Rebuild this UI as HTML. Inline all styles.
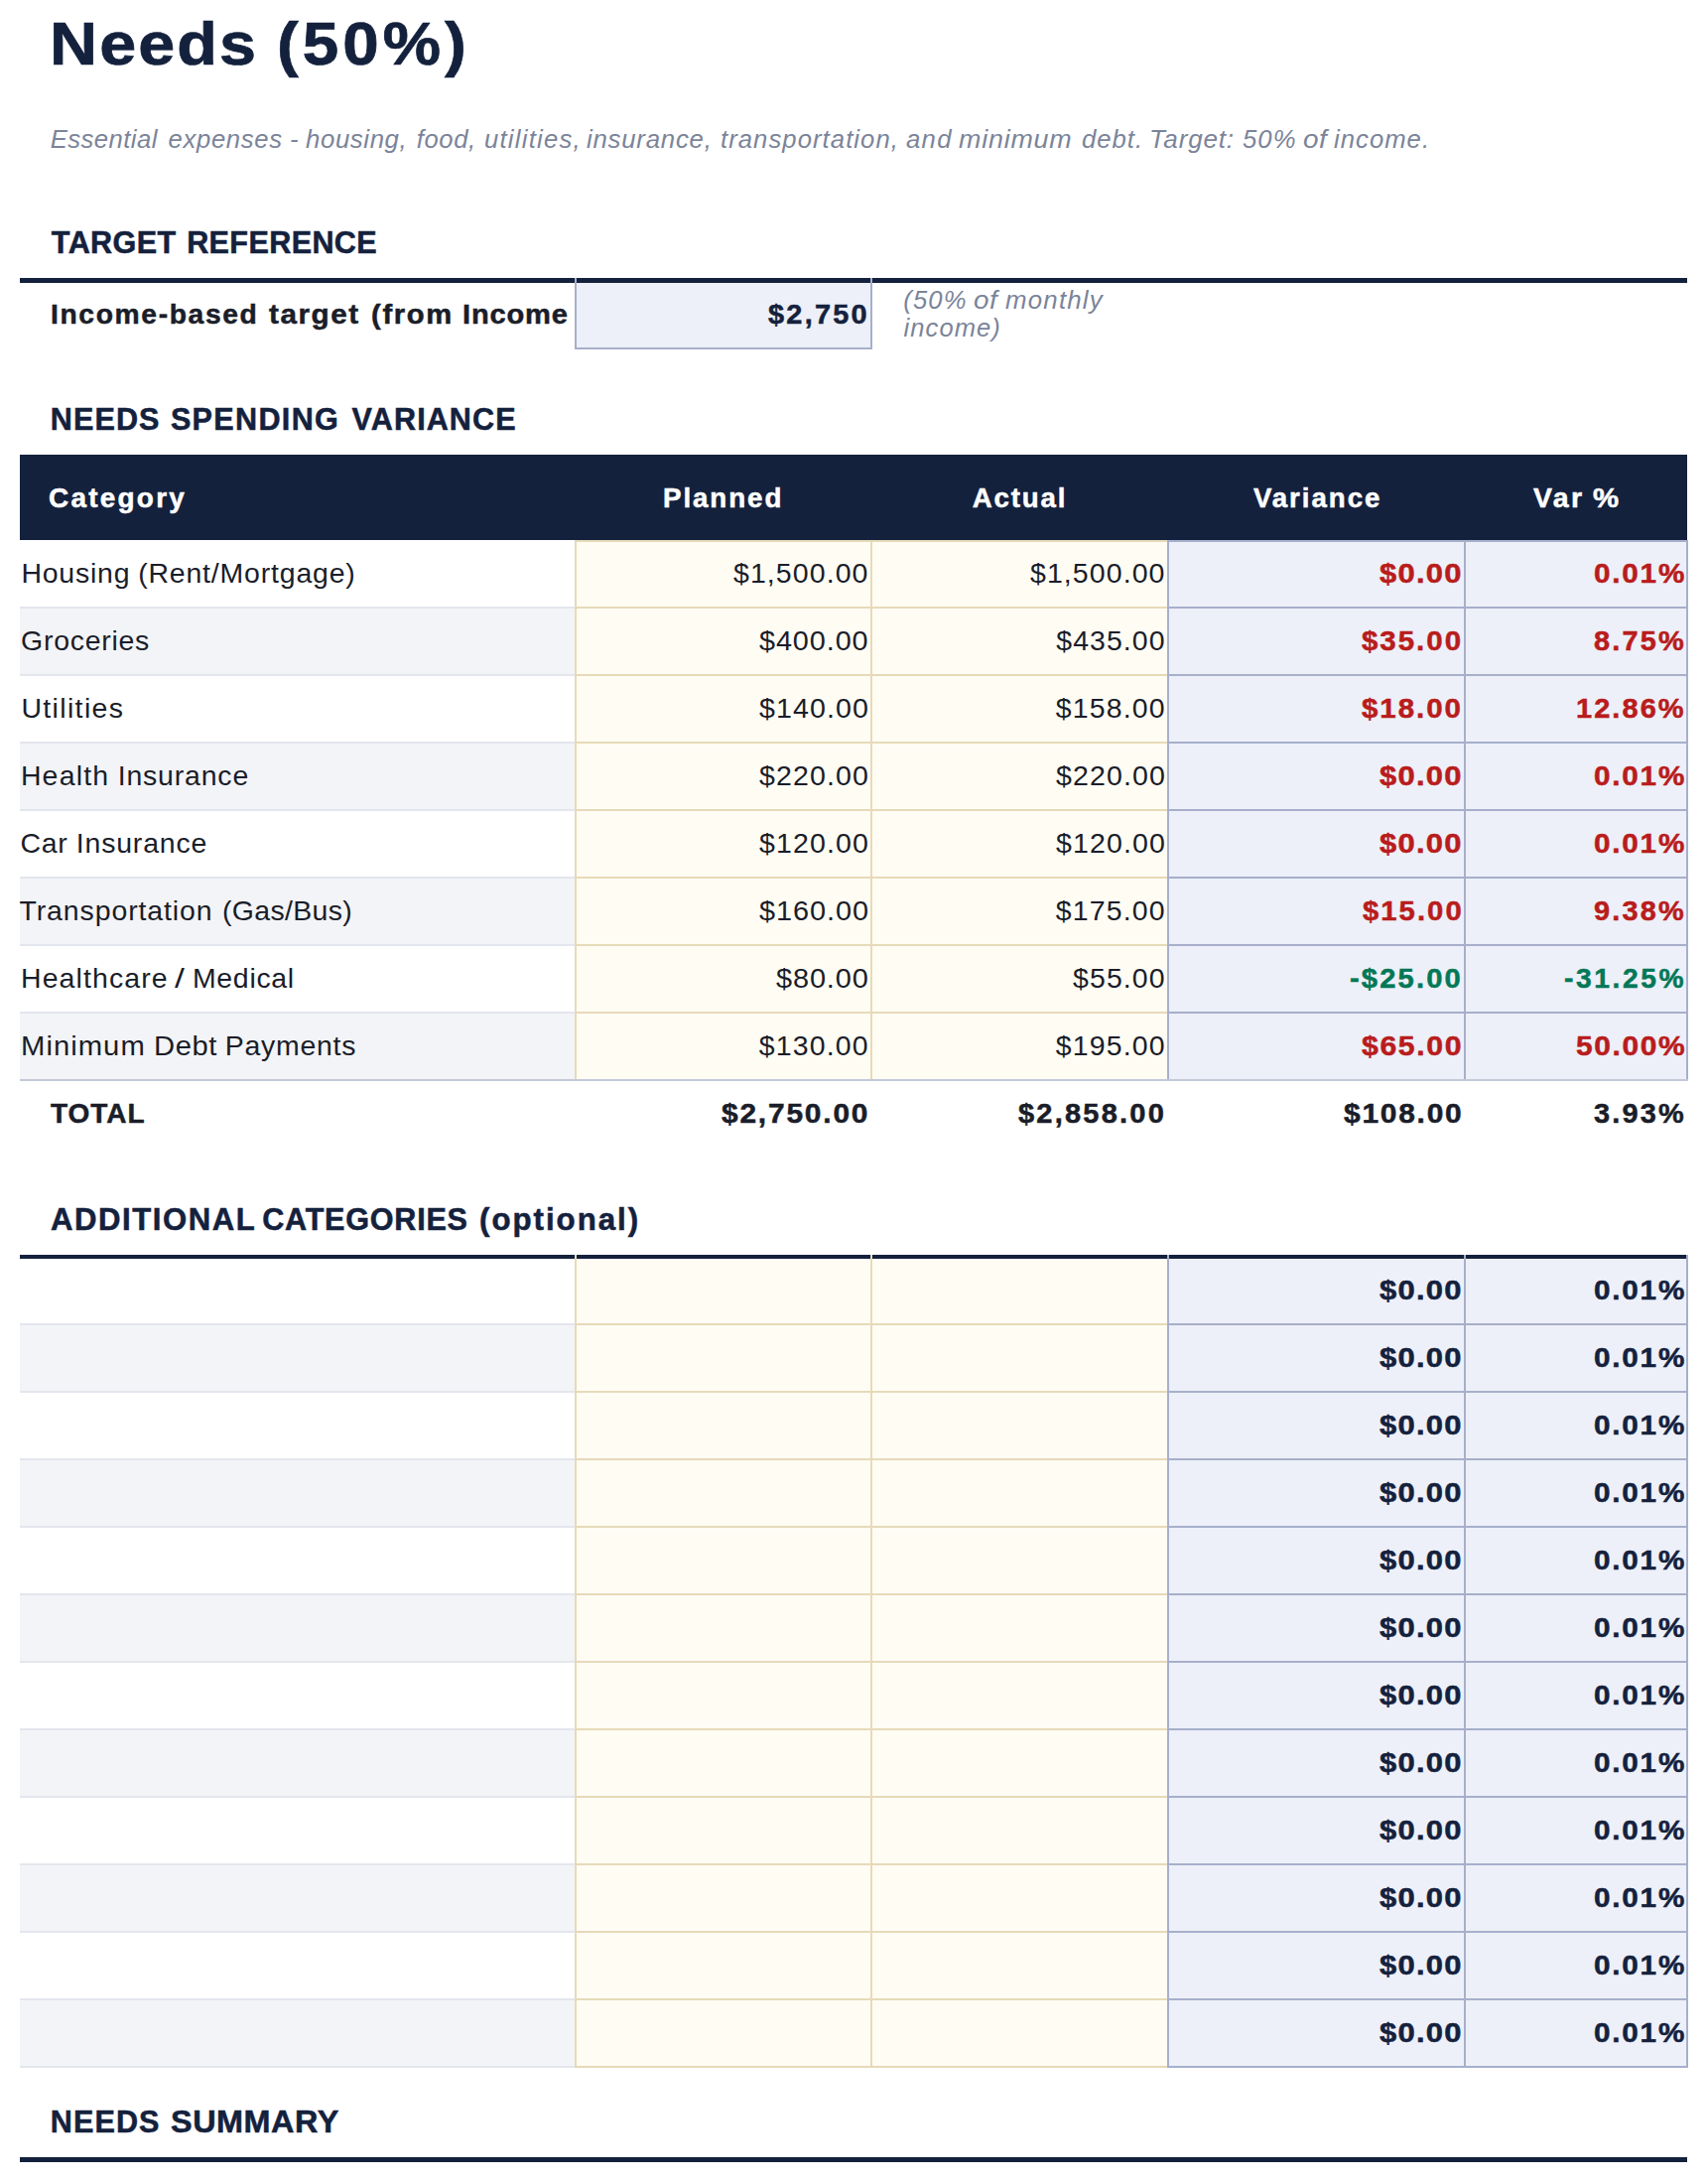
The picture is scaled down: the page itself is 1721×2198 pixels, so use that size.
<!DOCTYPE html>
<html lang="en"><head><meta charset="utf-8"><title>Needs (50%)</title>
<style>
html,body{margin:0;padding:0;background:#fff}
body{width:1721px;height:2198px;position:relative;overflow:hidden;font-family:"Liberation Sans", sans-serif;}
.b{position:absolute}
.t{position:absolute;white-space:nowrap;font-family:"Liberation Sans", sans-serif;transform-origin:0 50%}
.w{position:absolute;top:0;white-space:nowrap;transform-origin:0 50%}
</style></head><body>
<div class="b" style="left:20px;top:458px;width:1680px;height:86px;background:#14213d"></div>
<div class="b" style="left:580px;top:544px;width:597px;height:544px;background:#fffcf4"></div>
<div class="b" style="left:1177px;top:544px;width:523px;height:544px;background:#edf0f8"></div>
<div class="b" style="left:20px;top:612px;width:560px;height:68px;background:#f3f4f7"></div>
<div class="b" style="left:20px;top:748px;width:560px;height:68px;background:#f3f4f7"></div>
<div class="b" style="left:20px;top:884px;width:560px;height:68px;background:#f3f4f7"></div>
<div class="b" style="left:20px;top:1020px;width:560px;height:68px;background:#f3f4f7"></div>
<div class="b" style="left:580px;top:1266px;width:597px;height:816px;background:#fffcf4"></div>
<div class="b" style="left:1177px;top:1266px;width:523px;height:816px;background:#edf0f8"></div>
<div class="b" style="left:20px;top:1334px;width:560px;height:68px;background:#f3f4f7"></div>
<div class="b" style="left:20px;top:1470px;width:560px;height:68px;background:#f3f4f7"></div>
<div class="b" style="left:20px;top:1606px;width:560px;height:68px;background:#f3f4f7"></div>
<div class="b" style="left:20px;top:1742px;width:560px;height:68px;background:#f3f4f7"></div>
<div class="b" style="left:20px;top:1878px;width:560px;height:68px;background:#f3f4f7"></div>
<div class="b" style="left:20px;top:2014px;width:560px;height:68px;background:#f3f4f7"></div>
<div class="b" style="left:580px;top:285px;width:298px;height:66px;background:#edf0f8"></div>
<div class="b" style="left:579px;top:544px;width:597px;height:2px;background:#e6dab8"></div>
<div class="b" style="left:1176px;top:544px;width:525px;height:2px;background:#a7afcb"></div>
<div class="b" style="left:20px;top:611px;width:559px;height:2px;background:#e4e6ee"></div>
<div class="b" style="left:579px;top:611px;width:597px;height:2px;background:#e6dab8"></div>
<div class="b" style="left:1176px;top:611px;width:525px;height:2px;background:#a7afcb"></div>
<div class="b" style="left:20px;top:679px;width:559px;height:2px;background:#e4e6ee"></div>
<div class="b" style="left:579px;top:679px;width:597px;height:2px;background:#e6dab8"></div>
<div class="b" style="left:1176px;top:679px;width:525px;height:2px;background:#a7afcb"></div>
<div class="b" style="left:20px;top:747px;width:559px;height:2px;background:#e4e6ee"></div>
<div class="b" style="left:579px;top:747px;width:597px;height:2px;background:#e6dab8"></div>
<div class="b" style="left:1176px;top:747px;width:525px;height:2px;background:#a7afcb"></div>
<div class="b" style="left:20px;top:815px;width:559px;height:2px;background:#e4e6ee"></div>
<div class="b" style="left:579px;top:815px;width:597px;height:2px;background:#e6dab8"></div>
<div class="b" style="left:1176px;top:815px;width:525px;height:2px;background:#a7afcb"></div>
<div class="b" style="left:20px;top:883px;width:559px;height:2px;background:#e4e6ee"></div>
<div class="b" style="left:579px;top:883px;width:597px;height:2px;background:#e6dab8"></div>
<div class="b" style="left:1176px;top:883px;width:525px;height:2px;background:#a7afcb"></div>
<div class="b" style="left:20px;top:951px;width:559px;height:2px;background:#e4e6ee"></div>
<div class="b" style="left:579px;top:951px;width:597px;height:2px;background:#e6dab8"></div>
<div class="b" style="left:1176px;top:951px;width:525px;height:2px;background:#a7afcb"></div>
<div class="b" style="left:20px;top:1019px;width:559px;height:2px;background:#e4e6ee"></div>
<div class="b" style="left:579px;top:1019px;width:597px;height:2px;background:#e6dab8"></div>
<div class="b" style="left:1176px;top:1019px;width:525px;height:2px;background:#a7afcb"></div>
<div class="b" style="left:20px;top:1087px;width:559px;height:2px;background:#e4e6ee"></div>
<div class="b" style="left:579px;top:1087px;width:597px;height:2px;background:#e6dab8"></div>
<div class="b" style="left:1176px;top:1087px;width:525px;height:2px;background:#a7afcb"></div>
<div class="b" style="left:579px;top:544px;width:2px;height:545px;background:#e6dab8"></div>
<div class="b" style="left:877px;top:544px;width:2px;height:545px;background:#e6dab8"></div>
<div class="b" style="left:1176px;top:544px;width:2px;height:545px;background:#a7afcb"></div>
<div class="b" style="left:1475px;top:544px;width:2px;height:545px;background:#a7afcb"></div>
<div class="b" style="left:1699px;top:544px;width:2px;height:545px;background:#a7afcb"></div>
<div class="b" style="left:20px;top:1087px;width:1681px;height:2px;background:#c4c9d8"></div>
<div class="b" style="left:20px;top:1333px;width:559px;height:2px;background:#e4e6ee"></div>
<div class="b" style="left:579px;top:1333px;width:597px;height:2px;background:#e6dab8"></div>
<div class="b" style="left:1176px;top:1333px;width:525px;height:2px;background:#a7afcb"></div>
<div class="b" style="left:20px;top:1401px;width:559px;height:2px;background:#e4e6ee"></div>
<div class="b" style="left:579px;top:1401px;width:597px;height:2px;background:#e6dab8"></div>
<div class="b" style="left:1176px;top:1401px;width:525px;height:2px;background:#a7afcb"></div>
<div class="b" style="left:20px;top:1469px;width:559px;height:2px;background:#e4e6ee"></div>
<div class="b" style="left:579px;top:1469px;width:597px;height:2px;background:#e6dab8"></div>
<div class="b" style="left:1176px;top:1469px;width:525px;height:2px;background:#a7afcb"></div>
<div class="b" style="left:20px;top:1537px;width:559px;height:2px;background:#e4e6ee"></div>
<div class="b" style="left:579px;top:1537px;width:597px;height:2px;background:#e6dab8"></div>
<div class="b" style="left:1176px;top:1537px;width:525px;height:2px;background:#a7afcb"></div>
<div class="b" style="left:20px;top:1605px;width:559px;height:2px;background:#e4e6ee"></div>
<div class="b" style="left:579px;top:1605px;width:597px;height:2px;background:#e6dab8"></div>
<div class="b" style="left:1176px;top:1605px;width:525px;height:2px;background:#a7afcb"></div>
<div class="b" style="left:20px;top:1673px;width:559px;height:2px;background:#e4e6ee"></div>
<div class="b" style="left:579px;top:1673px;width:597px;height:2px;background:#e6dab8"></div>
<div class="b" style="left:1176px;top:1673px;width:525px;height:2px;background:#a7afcb"></div>
<div class="b" style="left:20px;top:1741px;width:559px;height:2px;background:#e4e6ee"></div>
<div class="b" style="left:579px;top:1741px;width:597px;height:2px;background:#e6dab8"></div>
<div class="b" style="left:1176px;top:1741px;width:525px;height:2px;background:#a7afcb"></div>
<div class="b" style="left:20px;top:1809px;width:559px;height:2px;background:#e4e6ee"></div>
<div class="b" style="left:579px;top:1809px;width:597px;height:2px;background:#e6dab8"></div>
<div class="b" style="left:1176px;top:1809px;width:525px;height:2px;background:#a7afcb"></div>
<div class="b" style="left:20px;top:1877px;width:559px;height:2px;background:#e4e6ee"></div>
<div class="b" style="left:579px;top:1877px;width:597px;height:2px;background:#e6dab8"></div>
<div class="b" style="left:1176px;top:1877px;width:525px;height:2px;background:#a7afcb"></div>
<div class="b" style="left:20px;top:1945px;width:559px;height:2px;background:#e4e6ee"></div>
<div class="b" style="left:579px;top:1945px;width:597px;height:2px;background:#e6dab8"></div>
<div class="b" style="left:1176px;top:1945px;width:525px;height:2px;background:#a7afcb"></div>
<div class="b" style="left:20px;top:2013px;width:559px;height:2px;background:#e4e6ee"></div>
<div class="b" style="left:579px;top:2013px;width:597px;height:2px;background:#e6dab8"></div>
<div class="b" style="left:1176px;top:2013px;width:525px;height:2px;background:#a7afcb"></div>
<div class="b" style="left:20px;top:2081px;width:559px;height:2px;background:#e4e6ee"></div>
<div class="b" style="left:579px;top:2081px;width:597px;height:2px;background:#e6dab8"></div>
<div class="b" style="left:1176px;top:2081px;width:525px;height:2px;background:#a7afcb"></div>
<div class="b" style="left:579px;top:1264px;width:2px;height:819px;background:#e6dab8"></div>
<div class="b" style="left:877px;top:1264px;width:2px;height:819px;background:#e6dab8"></div>
<div class="b" style="left:1176px;top:1264px;width:2px;height:819px;background:#a7afcb"></div>
<div class="b" style="left:1475px;top:1264px;width:2px;height:819px;background:#a7afcb"></div>
<div class="b" style="left:1699px;top:1264px;width:2px;height:819px;background:#a7afcb"></div>
<div class="b" style="left:579px;top:280px;width:2px;height:72px;background:#a7afcb"></div>
<div class="b" style="left:877px;top:280px;width:2px;height:72px;background:#a7afcb"></div>
<div class="b" style="left:579px;top:350px;width:300px;height:2px;background:#a7afcb"></div>
<div class="b" style="left:20px;top:280px;width:559px;height:5px;background:#14213d"></div>
<div class="b" style="left:581px;top:280px;width:296px;height:5px;background:#14213d"></div>
<div class="b" style="left:879px;top:280px;width:821px;height:5px;background:#14213d"></div>
<div class="b" style="left:20px;top:1264px;width:559px;height:4px;background:#14213d"></div>
<div class="b" style="left:581px;top:1264px;width:296px;height:4px;background:#14213d"></div>
<div class="b" style="left:879px;top:1264px;width:297px;height:4px;background:#14213d"></div>
<div class="b" style="left:1178px;top:1264px;width:297px;height:4px;background:#14213d"></div>
<div class="b" style="left:1477px;top:1264px;width:222px;height:4px;background:#14213d"></div>
<div class="b" style="left:20px;top:2173px;width:1680px;height:5px;background:#14213d"></div>
<div class="t" style="left:50.05px;top:6px;font-size:61.15px;line-height:76px;color:#14213d;font-weight:700;-webkit-text-stroke:0.73px #14213d;"><span class="w" style="left:0.0px;letter-spacing:1.909px;transform:scaleX(1.0882);">Needs</span> <span class="w" style="left:228.77px;letter-spacing:3.697px;transform:scaleX(1.0727);">(50%)</span></div>
<div class="t" style="left:50.7px;top:122px;font-size:25.65px;line-height:36px;color:#7b8499;font-style:italic;"><span class="w" style="left:-0.0px;letter-spacing:0.457px;">Essential</span> <span class="w" style="left:118.79px;letter-spacing:0.694px;">expenses</span> <span class="w" style="left:241.33px;letter-spacing:0.694px;">-</span> <span class="w" style="left:257.13px;letter-spacing:0.582px;transform:scaleX(1.0072);">housing,</span> <span class="w" style="left:368.99px;letter-spacing:0.611px;">food,</span> <span class="w" style="left:437.27px;letter-spacing:1.25px;">utilities,</span> <span class="w" style="left:540.72px;letter-spacing:0.765px;transform:scaleX(1.0052);">insurance,</span> <span class="w" style="left:675.28px;letter-spacing:1.075px;">transportation,</span> <span class="w" style="left:862.23px;letter-spacing:1.308px;transform:scaleX(1.0008);">and</span> <span class="w" style="left:915.74px;letter-spacing:0.775px;transform:scaleX(1.0464);">minimum</span> <span class="w" style="left:1038.87px;letter-spacing:0.975px;transform:scaleX(1.0033);">debt.</span> <span class="w" style="left:1106.95px;letter-spacing:0.793px;transform:scaleX(1.0167);">Target:</span> <span class="w" style="left:1201.26px;letter-spacing:1.125px;">50%</span> <span class="w" style="left:1262.59px;letter-spacing:0.401px;transform:scaleX(1.0906);">of</span> <span class="w" style="left:1293.78px;letter-spacing:1.03px;transform:scaleX(1.0007);">income.</span></div>
<div class="t" style="left:51.85px;top:223px;font-size:30.58px;line-height:42px;color:#14213d;font-weight:700;-webkit-text-stroke:0.51px #14213d;"><span class="w" style="left:0.0px;letter-spacing:0.386px;">TARGET</span> <span class="w" style="left:136.32px;letter-spacing:0.368px;">REFERENCE</span></div>
<div class="t" style="left:50.84px;top:401px;font-size:30.58px;line-height:42px;color:#14213d;font-weight:700;-webkit-text-stroke:0.51px #14213d;"><span class="w" style="left:0.0px;letter-spacing:1.063px;">NEEDS</span> <span class="w" style="left:121.08px;letter-spacing:1.323px;">SPENDING</span> <span class="w" style="left:303.79px;letter-spacing:1.077px;">VARIANCE</span></div>
<div class="t" style="left:50.87px;top:1207px;font-size:30.58px;line-height:42px;color:#14213d;font-weight:700;-webkit-text-stroke:0.51px #14213d;"><span class="w" style="left:-0.0px;letter-spacing:1.517px;transform:scaleX(1.0175);">ADDITIONAL</span> <span class="w" style="left:213.36px;letter-spacing:0.758px;">CATEGORIES</span> <span class="w" style="left:432.18px;letter-spacing:1.926px;transform:scaleX(1.0227);">(optional)</span></div>
<div class="t" style="left:50.84px;top:2116px;font-size:30.58px;line-height:42px;color:#14213d;font-weight:700;-webkit-text-stroke:0.51px #14213d;"><span class="w" style="left:0.0px;letter-spacing:1.063px;">NEEDS</span> <span class="w" style="left:121.09px;letter-spacing:0.503px;transform:scaleX(1.0594);">SUMMARY</span></div>
<div class="t" style="left:51.42px;top:297px;font-size:27.66px;line-height:39px;color:#1a1d29;font-weight:700;-webkit-text-stroke:0.49px #1a1d29;"><span class="w" style="left:-0.0px;letter-spacing:1.592px;transform:scaleX(1.0213);">Income-based</span> <span class="w" style="left:219.95px;letter-spacing:1.437px;transform:scaleX(1.0736);">target</span> <span class="w" style="left:322.7px;letter-spacing:1.569px;transform:scaleX(1.0559);">(from</span> <span class="w" style="left:414.35px;letter-spacing:0.765px;transform:scaleX(1.0531);">Income</span></div>
<div class="t" style="left:774.34px;letter-spacing:2.164px;transform:scaleX(1.0445);top:297px;font-size:27.66px;line-height:39px;color:#14213d;font-weight:700;-webkit-text-stroke:0.49px #14213d;">$2,750</div>
<div class="t" style="left:910.34px;top:284px;font-size:25.55px;line-height:36px;color:#7b8499;font-style:italic;"><span class="w" style="left:-0.0px;letter-spacing:1.162px;">(50%</span> <span class="w" style="left:70.75px;letter-spacing:0.395px;transform:scaleX(1.0902);">of</span> <span class="w" style="left:102.32px;letter-spacing:1.201px;transform:scaleX(1.0109);">monthly</span></div>
<div class="t" style="left:910.6px;letter-spacing:1.043px;top:312px;font-size:25.55px;line-height:36px;color:#7b8499;font-style:italic;">income)</div>
<div class="t" style="left:49.49px;letter-spacing:2.234px;transform:scaleX(1.0095);top:482px;font-size:27.66px;line-height:39px;color:#fff;font-weight:700;-webkit-text-stroke:0.49px #fff;">Category</div>
<div class="t" style="left:668.48px;letter-spacing:1.88px;transform:scaleX(1.0042);top:482px;font-size:27.66px;line-height:39px;color:#fff;font-weight:700;-webkit-text-stroke:0.49px #fff;">Planned</div>
<div class="t" style="left:979.65px;letter-spacing:1.867px;top:482px;font-size:27.66px;line-height:39px;color:#fff;font-weight:700;-webkit-text-stroke:0.49px #fff;">Actual</div>
<div class="t" style="left:1262.92px;letter-spacing:1.954px;top:482px;font-size:27.66px;line-height:39px;color:#fff;font-weight:700;-webkit-text-stroke:0.49px #fff;">Variance</div>
<div class="t" style="left:1545.38px;top:482px;font-size:27.66px;line-height:39px;color:#fff;font-weight:700;-webkit-text-stroke:0.49px #fff;"><span class="w" style="left:-0.0px;letter-spacing:2.291px;transform:scaleX(1.029);">Var</span> <span class="w" style="left:59.46px;letter-spacing:2.221px;transform:scaleX(1.0615);">%</span></div>
<div class="t" style="left:21.38px;top:557px;font-size:28.46px;line-height:40px;color:#1a1d29;"><span class="w" style="left:0.0px;letter-spacing:0.782px;">Housing</span> <span class="w" style="left:117.79px;letter-spacing:0.821px;">(Rent/Mortgage)</span></div>
<div class="t" style="left:739.18px;letter-spacing:1.064px;transform:scaleX(1.0026);top:557px;font-size:28.46px;line-height:40px;color:#1a1d29;">$1,500.00</div>
<div class="t" style="left:1038.18px;letter-spacing:1.064px;transform:scaleX(1.0026);top:557px;font-size:28.46px;line-height:40px;color:#1a1d29;">$1,500.00</div>
<div class="t" style="left:1390.18px;letter-spacing:1.136px;transform:scaleX(1.1177);top:558px;font-size:27.66px;line-height:39px;color:#b91c1c;font-weight:700;-webkit-text-stroke:0.49px #b91c1c;">$0.00</div>
<div class="t" style="left:1606.3px;letter-spacing:1.678px;transform:scaleX(1.0723);top:558px;font-size:27.66px;line-height:39px;color:#b91c1c;font-weight:700;-webkit-text-stroke:0.49px #b91c1c;">0.01%</div>
<div class="t" style="left:21.09px;letter-spacing:0.739px;top:625px;font-size:28.46px;line-height:40px;color:#1a1d29;">Groceries</div>
<div class="t" style="left:765.1px;letter-spacing:0.878px;transform:scaleX(1.014);top:625px;font-size:28.46px;line-height:40px;color:#1a1d29;">$400.00</div>
<div class="t" style="left:1064.23px;letter-spacing:1.089px;top:625px;font-size:28.46px;line-height:40px;color:#1a1d29;">$435.00</div>
<div class="t" style="left:1372.23px;letter-spacing:1.868px;transform:scaleX(1.0649);top:626px;font-size:27.66px;line-height:39px;color:#b91c1c;font-weight:700;-webkit-text-stroke:0.49px #b91c1c;">$35.00</div>
<div class="t" style="left:1606.33px;letter-spacing:2.092px;transform:scaleX(1.0464);top:626px;font-size:27.66px;line-height:39px;color:#b91c1c;font-weight:700;-webkit-text-stroke:0.49px #b91c1c;">8.75%</div>
<div class="t" style="left:21.39px;letter-spacing:1.366px;top:693px;font-size:28.46px;line-height:40px;color:#1a1d29;">Utilities</div>
<div class="t" style="left:764.96px;letter-spacing:1.06px;transform:scaleX(1.0053);top:693px;font-size:28.46px;line-height:40px;color:#1a1d29;">$140.00</div>
<div class="t" style="left:1063.86px;letter-spacing:1.161px;top:693px;font-size:28.46px;line-height:40px;color:#1a1d29;">$158.00</div>
<div class="t" style="left:1372.29px;letter-spacing:1.84px;transform:scaleX(1.0652);top:694px;font-size:27.66px;line-height:39px;color:#b91c1c;font-weight:700;-webkit-text-stroke:0.49px #b91c1c;">$18.00</div>
<div class="t" style="left:1588.45px;letter-spacing:1.969px;transform:scaleX(1.0482);top:694px;font-size:27.66px;line-height:39px;color:#b91c1c;font-weight:700;-webkit-text-stroke:0.49px #b91c1c;">12.86%</div>
<div class="t" style="left:20.88px;top:761px;font-size:28.46px;line-height:40px;color:#1a1d29;"><span class="w" style="left:0.0px;letter-spacing:1.192px;">Health</span> <span class="w" style="left:97.8px;letter-spacing:0.825px;">Insurance</span></div>
<div class="t" style="left:764.78px;letter-spacing:1.113px;transform:scaleX(1.0031);top:761px;font-size:28.46px;line-height:40px;color:#1a1d29;">$220.00</div>
<div class="t" style="left:1063.78px;letter-spacing:1.113px;transform:scaleX(1.0031);top:761px;font-size:28.46px;line-height:40px;color:#1a1d29;">$220.00</div>
<div class="t" style="left:1390.18px;letter-spacing:1.136px;transform:scaleX(1.1177);top:762px;font-size:27.66px;line-height:39px;color:#b91c1c;font-weight:700;-webkit-text-stroke:0.49px #b91c1c;">$0.00</div>
<div class="t" style="left:1606.3px;letter-spacing:1.678px;transform:scaleX(1.0723);top:762px;font-size:27.66px;line-height:39px;color:#b91c1c;font-weight:700;-webkit-text-stroke:0.49px #b91c1c;">0.01%</div>
<div class="t" style="left:20.51px;top:829px;font-size:28.46px;line-height:40px;color:#1a1d29;"><span class="w" style="left:0.0px;letter-spacing:0.708px;">Car</span> <span class="w" style="left:56.25px;letter-spacing:0.825px;">Insurance</span></div>
<div class="t" style="left:764.78px;letter-spacing:1.118px;transform:scaleX(1.0028);top:829px;font-size:28.46px;line-height:40px;color:#1a1d29;">$120.00</div>
<div class="t" style="left:1063.78px;letter-spacing:1.118px;transform:scaleX(1.0028);top:829px;font-size:28.46px;line-height:40px;color:#1a1d29;">$120.00</div>
<div class="t" style="left:1390.18px;letter-spacing:1.136px;transform:scaleX(1.1177);top:830px;font-size:27.66px;line-height:39px;color:#b91c1c;font-weight:700;-webkit-text-stroke:0.49px #b91c1c;">$0.00</div>
<div class="t" style="left:1606.3px;letter-spacing:1.678px;transform:scaleX(1.0723);top:830px;font-size:27.66px;line-height:39px;color:#b91c1c;font-weight:700;-webkit-text-stroke:0.49px #b91c1c;">0.01%</div>
<div class="t" style="left:19.5px;top:897px;font-size:28.46px;line-height:40px;color:#1a1d29;"><span class="w" style="left:0.0px;letter-spacing:0.902px;">Transportation</span> <span class="w" style="left:204.5px;letter-spacing:0.336px;">(Gas/Bus)</span></div>
<div class="t" style="left:764.78px;letter-spacing:0.901px;transform:scaleX(1.016);top:897px;font-size:28.46px;line-height:40px;color:#1a1d29;">$160.00</div>
<div class="t" style="left:1063.85px;letter-spacing:1.161px;top:897px;font-size:28.46px;line-height:40px;color:#1a1d29;">$175.00</div>
<div class="t" style="left:1372.5px;letter-spacing:1.954px;transform:scaleX(1.0563);top:898px;font-size:27.66px;line-height:39px;color:#b91c1c;font-weight:700;-webkit-text-stroke:0.49px #b91c1c;">$15.00</div>
<div class="t" style="left:1606.45px;letter-spacing:2.072px;transform:scaleX(1.0451);top:898px;font-size:27.66px;line-height:39px;color:#b91c1c;font-weight:700;-webkit-text-stroke:0.49px #b91c1c;">9.38%</div>
<div class="t" style="left:21.01px;top:965px;font-size:28.46px;line-height:40px;color:#1a1d29;"><span class="w" style="left:-0.0px;letter-spacing:1.119px;">Healthcare</span> <span class="w" style="left:154.87px;letter-spacing:0.895px;transform:scaleX(1.25);">/</span> <span class="w" style="left:172.96px;letter-spacing:0.696px;">Medical</span></div>
<div class="t" style="left:781.93px;letter-spacing:0.849px;transform:scaleX(1.0169);top:965px;font-size:28.46px;line-height:40px;color:#1a1d29;">$80.00</div>
<div class="t" style="left:1081.08px;letter-spacing:1.1px;top:965px;font-size:28.46px;line-height:40px;color:#1a1d29;">$55.00</div>
<div class="t" style="left:1360.47px;letter-spacing:2.052px;transform:scaleX(1.0532);top:966px;font-size:27.66px;line-height:39px;color:#047857;font-weight:700;-webkit-text-stroke:0.49px #047857;">-$25.00</div>
<div class="t" style="left:1576.29px;letter-spacing:2.584px;transform:scaleX(1.0181);top:966px;font-size:27.66px;line-height:39px;color:#047857;font-weight:700;-webkit-text-stroke:0.49px #047857;">-31.25%</div>
<div class="t" style="left:20.9px;top:1033px;font-size:28.46px;line-height:40px;color:#1a1d29;"><span class="w" style="left:-0.0px;letter-spacing:1.002px;transform:scaleX(1.0276);">Minimum</span> <span class="w" style="left:133.69px;letter-spacing:0.593px;transform:scaleX(1.0258);">Debt</span> <span class="w" style="left:205.87px;letter-spacing:0.743px;">Payments</span></div>
<div class="t" style="left:764.86px;letter-spacing:1.161px;top:1033px;font-size:28.46px;line-height:40px;color:#1a1d29;">$130.00</div>
<div class="t" style="left:1063.86px;letter-spacing:1.16px;top:1033px;font-size:28.46px;line-height:40px;color:#1a1d29;">$195.00</div>
<div class="t" style="left:1371.97px;letter-spacing:1.496px;transform:scaleX(1.0915);top:1034px;font-size:27.66px;line-height:39px;color:#b91c1c;font-weight:700;-webkit-text-stroke:0.49px #b91c1c;">$65.00</div>
<div class="t" style="left:1587.98px;letter-spacing:1.484px;transform:scaleX(1.0832);top:1034px;font-size:27.66px;line-height:39px;color:#b91c1c;font-weight:700;-webkit-text-stroke:0.49px #b91c1c;">50.00%</div>
<div class="t" style="left:51.42px;letter-spacing:0.95px;transform:scaleX(1.0121);top:1102px;font-size:27.66px;line-height:39px;color:#1a1d29;font-weight:700;-webkit-text-stroke:0.49px #1a1d29;">TOTAL</div>
<div class="t" style="left:726.89px;letter-spacing:1.686px;transform:scaleX(1.0799);top:1102px;font-size:27.66px;line-height:39px;color:#1a1d29;font-weight:700;-webkit-text-stroke:0.49px #1a1d29;">$2,750.00</div>
<div class="t" style="left:1026.24px;letter-spacing:2.113px;transform:scaleX(1.0494);top:1102px;font-size:27.66px;line-height:39px;color:#1a1d29;font-weight:700;-webkit-text-stroke:0.49px #1a1d29;">$2,858.00</div>
<div class="t" style="left:1353.56px;letter-spacing:1.641px;transform:scaleX(1.0812);top:1102px;font-size:27.66px;line-height:39px;color:#1a1d29;font-weight:700;-webkit-text-stroke:0.49px #1a1d29;">$108.00</div>
<div class="t" style="left:1606.45px;letter-spacing:2.072px;transform:scaleX(1.0451);top:1102px;font-size:27.66px;line-height:39px;color:#1a1d29;font-weight:700;-webkit-text-stroke:0.49px #1a1d29;">3.93%</div>
<div class="t" style="left:1390.18px;letter-spacing:1.136px;transform:scaleX(1.1177);top:1280px;font-size:27.66px;line-height:39px;color:#14213d;font-weight:700;-webkit-text-stroke:0.49px #14213d;">$0.00</div>
<div class="t" style="left:1606.3px;letter-spacing:1.678px;transform:scaleX(1.0723);top:1280px;font-size:27.66px;line-height:39px;color:#14213d;font-weight:700;-webkit-text-stroke:0.49px #14213d;">0.01%</div>
<div class="t" style="left:1390.18px;letter-spacing:1.136px;transform:scaleX(1.1177);top:1348px;font-size:27.66px;line-height:39px;color:#14213d;font-weight:700;-webkit-text-stroke:0.49px #14213d;">$0.00</div>
<div class="t" style="left:1606.3px;letter-spacing:1.678px;transform:scaleX(1.0723);top:1348px;font-size:27.66px;line-height:39px;color:#14213d;font-weight:700;-webkit-text-stroke:0.49px #14213d;">0.01%</div>
<div class="t" style="left:1390.18px;letter-spacing:1.136px;transform:scaleX(1.1177);top:1416px;font-size:27.66px;line-height:39px;color:#14213d;font-weight:700;-webkit-text-stroke:0.49px #14213d;">$0.00</div>
<div class="t" style="left:1606.3px;letter-spacing:1.678px;transform:scaleX(1.0723);top:1416px;font-size:27.66px;line-height:39px;color:#14213d;font-weight:700;-webkit-text-stroke:0.49px #14213d;">0.01%</div>
<div class="t" style="left:1390.18px;letter-spacing:1.136px;transform:scaleX(1.1177);top:1484px;font-size:27.66px;line-height:39px;color:#14213d;font-weight:700;-webkit-text-stroke:0.49px #14213d;">$0.00</div>
<div class="t" style="left:1606.3px;letter-spacing:1.678px;transform:scaleX(1.0723);top:1484px;font-size:27.66px;line-height:39px;color:#14213d;font-weight:700;-webkit-text-stroke:0.49px #14213d;">0.01%</div>
<div class="t" style="left:1390.18px;letter-spacing:1.136px;transform:scaleX(1.1177);top:1552px;font-size:27.66px;line-height:39px;color:#14213d;font-weight:700;-webkit-text-stroke:0.49px #14213d;">$0.00</div>
<div class="t" style="left:1606.3px;letter-spacing:1.678px;transform:scaleX(1.0723);top:1552px;font-size:27.66px;line-height:39px;color:#14213d;font-weight:700;-webkit-text-stroke:0.49px #14213d;">0.01%</div>
<div class="t" style="left:1390.18px;letter-spacing:1.136px;transform:scaleX(1.1177);top:1620px;font-size:27.66px;line-height:39px;color:#14213d;font-weight:700;-webkit-text-stroke:0.49px #14213d;">$0.00</div>
<div class="t" style="left:1606.3px;letter-spacing:1.678px;transform:scaleX(1.0723);top:1620px;font-size:27.66px;line-height:39px;color:#14213d;font-weight:700;-webkit-text-stroke:0.49px #14213d;">0.01%</div>
<div class="t" style="left:1390.18px;letter-spacing:1.136px;transform:scaleX(1.1177);top:1688px;font-size:27.66px;line-height:39px;color:#14213d;font-weight:700;-webkit-text-stroke:0.49px #14213d;">$0.00</div>
<div class="t" style="left:1606.3px;letter-spacing:1.678px;transform:scaleX(1.0723);top:1688px;font-size:27.66px;line-height:39px;color:#14213d;font-weight:700;-webkit-text-stroke:0.49px #14213d;">0.01%</div>
<div class="t" style="left:1390.18px;letter-spacing:1.136px;transform:scaleX(1.1177);top:1756px;font-size:27.66px;line-height:39px;color:#14213d;font-weight:700;-webkit-text-stroke:0.49px #14213d;">$0.00</div>
<div class="t" style="left:1606.3px;letter-spacing:1.678px;transform:scaleX(1.0723);top:1756px;font-size:27.66px;line-height:39px;color:#14213d;font-weight:700;-webkit-text-stroke:0.49px #14213d;">0.01%</div>
<div class="t" style="left:1390.18px;letter-spacing:1.136px;transform:scaleX(1.1177);top:1824px;font-size:27.66px;line-height:39px;color:#14213d;font-weight:700;-webkit-text-stroke:0.49px #14213d;">$0.00</div>
<div class="t" style="left:1606.3px;letter-spacing:1.678px;transform:scaleX(1.0723);top:1824px;font-size:27.66px;line-height:39px;color:#14213d;font-weight:700;-webkit-text-stroke:0.49px #14213d;">0.01%</div>
<div class="t" style="left:1390.18px;letter-spacing:1.136px;transform:scaleX(1.1177);top:1892px;font-size:27.66px;line-height:39px;color:#14213d;font-weight:700;-webkit-text-stroke:0.49px #14213d;">$0.00</div>
<div class="t" style="left:1606.3px;letter-spacing:1.678px;transform:scaleX(1.0723);top:1892px;font-size:27.66px;line-height:39px;color:#14213d;font-weight:700;-webkit-text-stroke:0.49px #14213d;">0.01%</div>
<div class="t" style="left:1390.18px;letter-spacing:1.136px;transform:scaleX(1.1177);top:1960px;font-size:27.66px;line-height:39px;color:#14213d;font-weight:700;-webkit-text-stroke:0.49px #14213d;">$0.00</div>
<div class="t" style="left:1606.3px;letter-spacing:1.678px;transform:scaleX(1.0723);top:1960px;font-size:27.66px;line-height:39px;color:#14213d;font-weight:700;-webkit-text-stroke:0.49px #14213d;">0.01%</div>
<div class="t" style="left:1390.18px;letter-spacing:1.136px;transform:scaleX(1.1177);top:2028px;font-size:27.66px;line-height:39px;color:#14213d;font-weight:700;-webkit-text-stroke:0.49px #14213d;">$0.00</div>
<div class="t" style="left:1606.3px;letter-spacing:1.678px;transform:scaleX(1.0723);top:2028px;font-size:27.66px;line-height:39px;color:#14213d;font-weight:700;-webkit-text-stroke:0.49px #14213d;">0.01%</div>
</body></html>
